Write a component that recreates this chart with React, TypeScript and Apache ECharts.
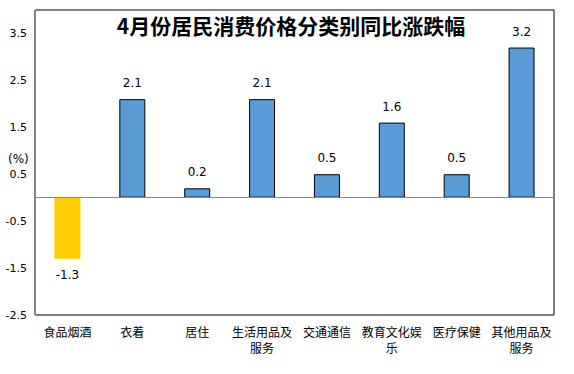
import React, { useEffect, useRef } from "react";
import * as echarts from "echarts";

const categories = ["食品烟酒", "衣着", "居住", "生活用品及\n服务", "交通通信", "教育文化娱\n乐", "医疗保健", "其他用品及\n服务"];
const values = [-1.3, 2.1, 0.2, 2.1, 0.5, 1.6, 0.5, 3.2];
const titleText = "4月份居民消费价格分类别同比涨跌幅";
const unitText = "(%)";

export default function App() {
  const ref = useRef<HTMLDivElement>(null);
  useEffect(() => {
    document.body.style.margin = "0";
    const chart = echarts.init(ref.current!, null, { renderer: "svg" });
    const numFont = "DejaVu Sans, Verdana, sans-serif";
    const cjkFont = "'Noto Sans CJK SC', sans-serif";
    chart.setOption({
      animation: false,
      backgroundColor: "#fff",
      title: {
        text: titleText,
        left: 286,
        textAlign: "center",
        top: 9,
        textStyle: { fontFamily: cjkFont, fontSize: 21, fontWeight: "bold", color: "#000" },
      },
      graphic: [
        {
          type: "text",
          left: 8,
          top: 153,
          style: { text: unitText, font: `12px ${numFont}`, fill: "#000" },
        },
      ],
      grid: {
        left: 35,
        right: 20,
        top: 10,
        bottom: 59,
        show: true,
        borderColor: "#000",
        borderWidth: 1,
      },
      xAxis: {
        type: "category",
        data: categories,
        position: "bottom",
        axisLine: { show: false, onZero: false },
        axisTick: { show: false },
        axisLabel: {
          interval: 0,
          fontFamily: cjkFont,
          fontSize: 12,
          color: "#000",
          lineHeight: 16,
          margin: 8,
        },
      },
      yAxis: {
        type: "value",
        min: -2.5,
        max: 4,
        interval: 1,
        axisLine: { show: true, lineStyle: { color: "#888", width: 1 } },
        axisTick: { show: false },
        splitLine: { show: false },
        axisLabel: {
          showMaxLabel: false,
          fontFamily: numFont,
          fontSize: 11,
          color: "#000",
          margin: 8,
          formatter: (v: number) => (v > 3.6 ? "" : v.toFixed(1)),
        },
      },
      series: [
        {
          type: "bar",
          data: values.map((v) => ({
            value: v,
            itemStyle:
              v < 0
                ? { color: "#FFCC00", borderWidth: 0 }
                : { color: "#5B9BD5", borderColor: "#000", borderWidth: 1 },
            label: { position: v < 0 ? "bottom" : "top" },
          })),
          barWidth: 26,
          label: {
            show: true,
            distance: 10,
            fontFamily: numFont,
            fontSize: 12,
            color: "#000",
            formatter: (p: any) => Number(p.value).toFixed(1),
          },
          markLine: {
            silent: true,
            symbol: "none",
            label: { show: false },
            lineStyle: { color: "#888", type: "solid", width: 1 },
            data: [{ yAxis: 0 }],
          },
        },
      ],
    });
    return () => chart.dispose();
  }, []);
  return <div ref={ref} style={{ width: 574, height: 374 }} />;
}
